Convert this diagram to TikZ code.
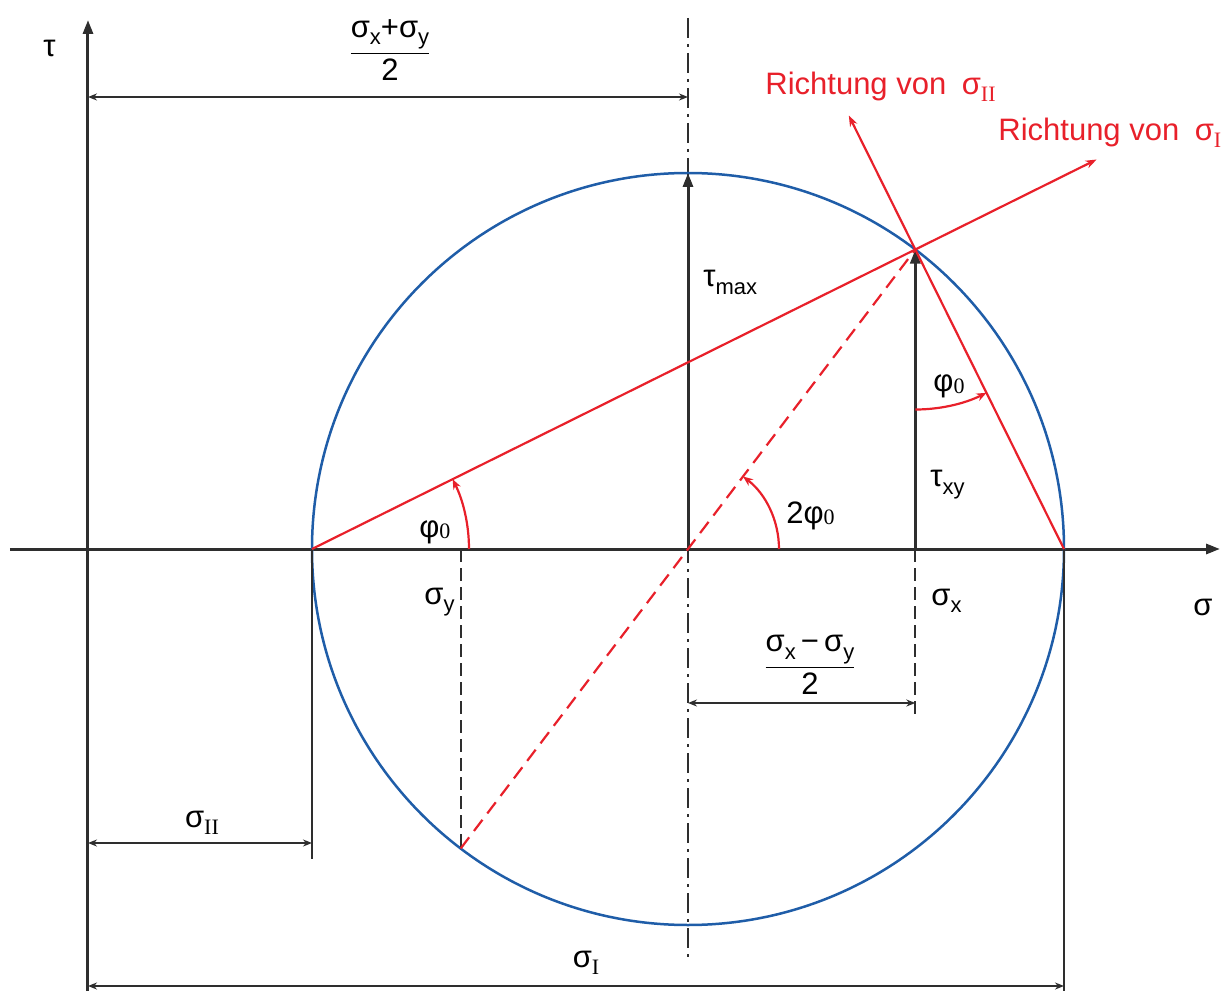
\documentclass[tikz,border=0pt]{standalone}
\usepackage{fontspec}
\setmainfont{Liberation Sans}
\newfontfamily\numfont{Liberation Serif}
\usepackage{amsmath}
\usetikzlibrary{arrows.meta, calc}
\definecolor{mohrblue}{HTML}{1F5DA8}
\definecolor{mohrred}{HTML}{E8202A}
\definecolor{mohrgray}{HTML}{2E2E2E}
\newcommand{\sbs}[1]{\raisebox{-0.45ex}{\fontsize{11}{12}\selectfont #1}}
\newcommand{\rsub}[1]{\raisebox{-0.4ex}{\fontsize{11}{12}\selectfont\numfont #1}}
\newcommand{\zsub}[1]{\raisebox{-0.1ex}{\fontsize{11}{12}\selectfont\numfont #1}}

\tikzset{
  axis/.style={mohrgray, line width=1.5pt, -{Triangle[length=7pt, width=5pt]}},
  dimline/.style={mohrgray, line width=0.9pt, {Stealth[length=4.5pt, width=3.5pt]}-{Stealth[length=4.5pt, width=3.5pt]}},
  extline/.style={mohrgray, line width=1pt},
  dashline/.style={mohrgray, line width=1pt, dash pattern=on 6.5pt off 3pt},
  centerline/.style={mohrgray, line width=0.9pt, dash pattern=on 10pt off 3pt on 1.5pt off 3pt},
  stressarrow/.style={mohrgray, line width=1.5pt, -{Triangle[length=7pt, width=5pt]}},
  redline/.style={mohrred, line width=1.1pt},
  redarrow/.style={mohrred, line width=1.1pt, -{Stealth[length=5.5pt, width=4pt]}},
  anglearc/.style={mohrred, line width=1.1pt, -{Stealth[length=5pt, width=4pt]}},
  lbl/.style={font=\fontsize{15.5}{18}\selectfont, inner sep=0pt},
  redlbl/.style={lbl, text=mohrred},
}

\begin{document}
\begin{tikzpicture}[x=0.5pt, y=0.5pt]
  \useasboundingbox (-688,-442) rectangle (543,549);

  % main points
  \coordinate (M) at (0,0);
  \coordinate (O) at (-600,0);
  \coordinate (A) at (-376,0);
  \coordinate (B) at (376,0);
  \coordinate (T) at (0,376);
  \coordinate (P) at (52.8:376);
  \coordinate (Q) at (232.8:376);
  \coordinate (Sx) at (P |- M);
  \coordinate (Sy) at (Q |- M);

  % axes
  \coordinate (sL) at (-678,0);
  \coordinate (sR) at (532,0);
  \coordinate (tB) at (-600,-442);
  \coordinate (tT) at (-600,529);
  \draw[axis] (sL) -- (sR);
  \draw[axis] (tB) -- (tT);

  % centre line
  \coordinate (cT) at (0,531);
  \coordinate (cB) at (0,-409);
  \draw[centerline] (cT) -- (cB);

  % circle
  \draw[mohrblue, line width=1.25pt] (M) circle[radius=376];

  % extension lines
  \draw[extline] (A) -- ++(0,-310);
  \draw[extline] (B) -- ++(0,-442);
  \draw[dashline] (Sx) -- ++(0,-168);
  \draw[dashline] (Sy) -- (Q);

  % dimensions
  \coordinate (d1) at (0,452);
  \coordinate (d2) at (0,-154);
  \coordinate (d3) at (0,-294);
  \coordinate (d4) at (0,-437);
  \draw[dimline] (O |- d1) -- (d1);
  \draw[dimline] (d2) -- (Sx |- d2);
  \draw[dimline] (O |- d3) -- (A |- d3);
  \draw[dimline] (O |- d4) -- (B |- d4);

  % stress arrows
  \draw[stressarrow] (M) -- (T);
  \draw[stressarrow] (Sx) -- (P);

  % principal directions
  \coordinate (dI) at ($(A)+(26.4:876)$);
  \coordinate (dII) at ($(B)+(116.4:484)$);
  \draw[redarrow] (A) -- (dI);
  \draw[redarrow] (B) -- (dII);
  \draw[redline, dash pattern=on 7pt off 4pt] (Q) -- (P);

  % angles
  \draw[anglearc] ([shift={(0:157)}]A) arc[start angle=0, end angle=26.4, radius=157];
  \draw[anglearc] ([shift={(0:91)}]M) arc[start angle=0, end angle=52.8, radius=91];
  \draw[anglearc] ([shift={(-90:160)}]P) arc[start angle=-90, end angle=-63.6, radius=160];

  % labels
  \node[lbl, anchor=base west] (tau) at (-645,492) {τ};
  \node[lbl, anchor=base west] (sigma) at (505,-66) {σ};
  \node[lbl] (fracsum) at (-298,499) {$\dfrac{\text{σ\sbs{x}+σ\sbs{y}}}{\text{2}}$};
  \node[lbl] (fracdiff) at (122,-116) {$\dfrac{\text{σ\sbs{x}\,−\,σ\sbs{y}}}{\text{2}}$};
  \node[lbl, anchor=base west] (taumax) at (15,262) {τ\sbs{max}};
  \node[lbl, anchor=base west] (tauxy) at (242,62) {τ\sbs{xy}};
  \node[lbl, anchor=base west] (phiR) at (245,157) {φ\zsub{0}};
  \node[lbl, anchor=base west] (phiL) at (-269,12) {φ\zsub{0}};
  \node[lbl, anchor=base west] (phi2) at (98,26) {2φ\zsub{0}};
  \node[lbl, anchor=base west] (sy) at (-264,-55) {σ\sbs{y}};
  \node[lbl, anchor=base west] (sx) at (243,-56) {σ\sbs{x}};
  \node[lbl] (sII) at (-486,-274) {σ\rsub{II}};
  \node[lbl] (sI) at (-102,-414) {σ\rsub{I}};
  \node[redlbl, anchor=base west] (richII) at (77,454) {Richtung von\enspace σ\rsub{II}};
  \node[redlbl, anchor=base west] (richI) at (310,408) {Richtung von\enspace σ\rsub{I}};
\end{tikzpicture}
\end{document}
